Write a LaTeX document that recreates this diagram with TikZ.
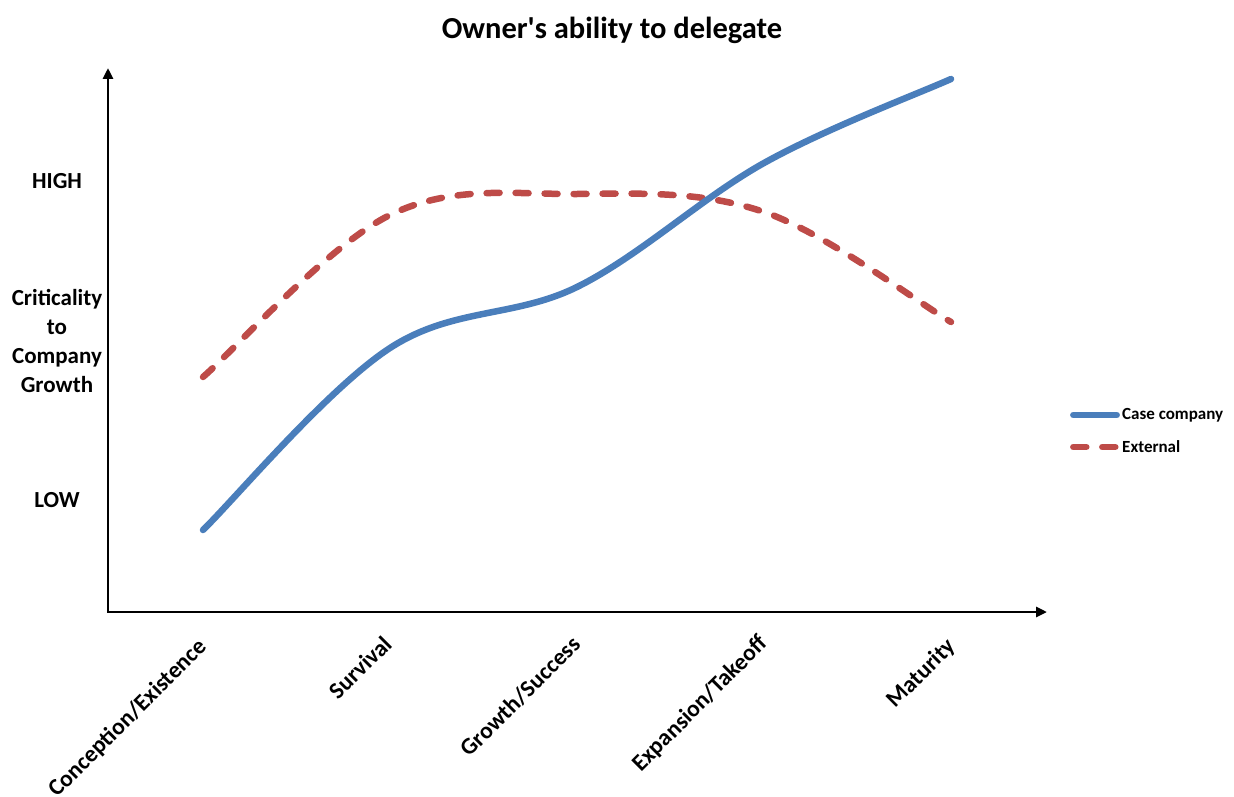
\documentclass[tikz,border=0pt]{standalone}
\usepackage{fontspec}
\setmainfont{Carlito}
\usetikzlibrary{arrows.meta}
\definecolor{caseblue}{RGB}{74,126,187}
\definecolor{extred}{RGB}{190,75,72}
\begin{document}
\begin{tikzpicture}[x=1pt,y=-1pt,
  lbl/.style={font=\bfseries\fontsize{23}{29}\selectfont, inner sep=0pt, align=center},
  cat/.style={font=\bfseries\fontsize{23.5}{29}\selectfont, inner sep=0pt, rotate=45, anchor=north east},
  axisline/.style={line width=2.8pt, line join=miter, {Triangle[length=11pt,width=10pt]}-{Triangle[length=11pt,width=10pt]}},
  caseline/.style={caseblue, line width=6.5pt, line cap=round},
  extline/.style={extred, line width=6.5pt, line cap=round, dash pattern=on 13pt off 16pt},
  legtxt/.style={font=\bfseries\fontsize{17}{20}\selectfont, anchor=west, inner sep=0pt}]
\fill[white] (0,0) rectangle (1234,797);
\useasboundingbox (0,0) rectangle (1234,797);

% title
\node[font=\bfseries\fontsize{30.5}{36}\selectfont, inner sep=0pt] (title) at (612,30) {Owner\textquotesingle s ability to delegate};

% axes
\coordinate (ytop) at (108,68);
\coordinate (O) at (108,612);
\coordinate (xend) at (1047,612);
\draw[axisline] (ytop) -- (O) -- (xend);

% y labels
\node[lbl] (high) at (57,181) {HIGH};
\node[lbl] (crit) at (57,341) {Criticality\\to\\Company\\Growth};
\node[lbl] (low) at (57,500) {LOW};

% category labels
\node[cat] (c1) at (196,636) {Conception/Existence};
\node[cat] (c2) at (382,634) {Survival};
\node[cat] (c3) at (570,634) {Growth/Success};
\node[cat] (c4) at (757,633) {Expansion/Takeoff};
\node[cat] (c5) at (945,636) {Maturity};

% data points
\coordinate (B0) at (203,530);
\coordinate (B1) at (390,348);
\coordinate (B2) at (577,287);
\coordinate (B3) at (764,163);
\coordinate (B4) at (951,79);
\coordinate (R0) at (203,377);
\coordinate (R1) at (390,215);
\coordinate (R2) at (577,194);
\coordinate (R3) at (764,212);
\coordinate (R4) at (951,322);

% external (red dashed)
\draw[extline] (R0) .. controls (234.2,350) and (327.7,245.5) .. (R1)
  .. controls (452.3,184.5) and (514.7,194.5) .. (R2)
  .. controls (639.3,193.5) and (701.7,190.7) .. (R3)
  .. controls (826.3,233.3) and (919.8,303.7) .. (R4);

% case company (blue)
\draw[caseline] (B0) .. controls (234.2,499.7) and (327.7,388.5) .. (B1)
  .. controls (452.3,307.5) and (514.7,317.8) .. (B2)
  .. controls (639.3,256.2) and (701.7,197.7) .. (B3)
  .. controls (826.3,128.3) and (919.8,93) .. (B4);

% legend
\coordinate (la1) at (1073.3,415);
\coordinate (la2) at (1116.7,415);
\coordinate (lb1) at (1073.3,447);
\coordinate (lb2) at (1116.7,447);
\draw[caseline] (la1) -- (la2);
\draw[extline] (lb1) -- (lb2);
\node[legtxt] (legcase) at (1122,415) {Case company};
\node[legtxt] (legext) at (1122,447) {External};
\end{tikzpicture}
\end{document}
